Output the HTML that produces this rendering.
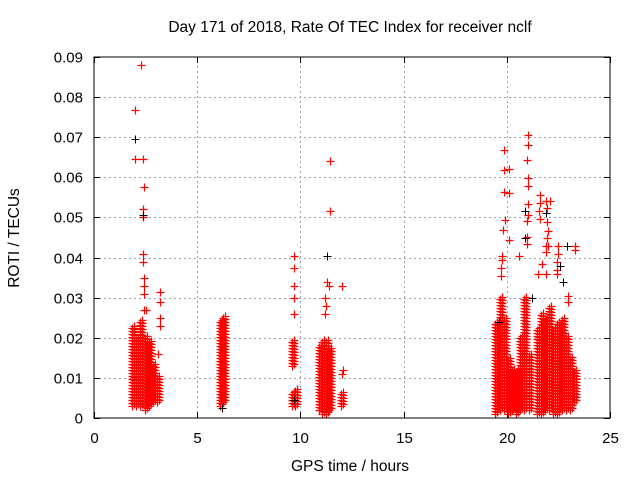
<!DOCTYPE html>
<html><head><meta charset="utf-8"><style>
body{margin:0;background:#fff;}
svg{display:block;font-family:"Liberation Sans",sans-serif;}
</style></head><body>
<svg id="chart" width="640" height="480">
<text x="350" y="32" font-size="15.5" text-anchor="middle">Day 171 of 2018, Rate Of TEC Index for receiver nclf</text>
<text x="350" y="471" font-size="15.5" text-anchor="middle">GPS time / hours</text>
<text transform="translate(19,238) rotate(-90)" font-size="15.5" text-anchor="middle">ROTI / TECUs</text>
<g id="grid"></g><g id="ticks"></g><g id="marks"></g>
<rect x="94" y="57" width="516" height="361" fill="none" stroke="#000" stroke-width="1"/>
</svg>
<script>
const xTicks=[0,5,10,15,20,25];
const yTicks=[0,0.01,0.02,0.03,0.04,0.05,0.06,0.07,0.08,0.09];
const yTickLabels=["0","0.01","0.02","0.03","0.04","0.05","0.06","0.07","0.08","0.09"];
// dense bins: time (h), lower and upper ROTI
const binT=[1.9,2.1,2.3,2.5,2.7,2.9,3.1,6.15,6.3,9.65,9.65,9.8,10.95,11.1,11.3,11.45,12.0,19.5,19.7,19.9,20.1,20.3,20.5,20.7,20.9,21.1,21.5,21.7,21.9,22.1,22.3,22.5,22.7,22.9,23.1,23.3];
const binLo=[0.003,0.003,0.003,0.002,0.003,0.004,0.004,0.003,0.004,0.003,0.013,0.003,0.002,0.001,0.001,0.002,0.003,0.001,0.002,0.002,0.001,0.002,0.001,0.002,0.002,0.002,0.001,0.001,0.002,0.002,0.001,0.001,0.002,0.002,0.002,0.004];
const binHi=[0.023,0.020,0.024,0.020,0.019,0.013,0.010,0.024,0.025,0.006,0.019,0.007,0.018,0.019,0.019,0.017,0.006,0.024,0.030,0.025,0.015,0.012,0.012,0.020,0.030,0.016,0.022,0.026,0.025,0.028,0.022,0.024,0.025,0.020,0.015,0.012];
// scattered outlier points
const redT=[2.0,2.0,2.3,2.35,2.4,2.35,2.35,2.35,2.35,2.4,2.4,2.4,2.4,2.5,3.2,3.2,3.2,3.2,3.1,9.7,9.7,9.7,9.7,9.7,11.45,11.45,11.3,11.4,11.2,11.25,11.2,12.0,12.05,12.0,19.88,19.88,20.1,19.88,20.1,19.9,19.8,20.1,19.75,19.75,19.7,19.7,21.04,21.04,21.0,21.04,21.04,21.05,21.05,21.0,21.0,21.0,20.6,21.6,21.6,21.55,21.6,21.9,22.1,21.95,21.95,22.0,21.95,21.9,22.0,22.5,22.5,22.45,21.9,21.7,22.45,23.3,23.3,21.5,21.9,22.45,22.95,22.95];
const redV=[0.0768,0.0645,0.088,0.0645,0.0575,0.052,0.050,0.041,0.039,0.035,0.033,0.031,0.027,0.027,0.0315,0.029,0.025,0.023,0.016,0.0405,0.0375,0.033,0.030,0.026,0.064,0.0515,0.034,0.033,0.030,0.028,0.026,0.033,0.012,0.011,0.0667,0.0618,0.062,0.0564,0.056,0.0494,0.0469,0.0445,0.0405,0.0394,0.0375,0.0355,0.0706,0.068,0.0643,0.0599,0.0579,0.0534,0.0506,0.049,0.0451,0.0433,0.0405,0.0556,0.0536,0.0517,0.0496,0.054,0.054,0.0523,0.0489,0.0465,0.045,0.0429,0.043,0.043,0.041,0.039,0.0415,0.0384,0.037,0.043,0.042,0.0359,0.036,0.036,0.0304,0.029];
const blackT=[2.0,2.35,11.3,20.9,20.9,21.9,22.9,22.7,6.2,9.7,19.6,21.2,22.6];
const blackV=[0.0695,0.0505,0.0404,0.0515,0.045,0.051,0.043,0.034,0.0025,0.0045,0.024,0.030,0.038];

const X0=94,X1=610,Y0=418,Y1=57;
const sx=h=>X0+(h-0)/(25-0)*(X1-X0);
const sy=v=>Y0-(v-0)/(0.09-0)*(Y0-Y1);
const NS="http://www.w3.org/2000/svg";
const grid=document.getElementById('grid'),ticks=document.getElementById('ticks'),marks=document.getElementById('marks');
function mk(tag,attrs,parent){const e=document.createElementNS(NS,tag);for(const k in attrs)e.setAttribute(k,attrs[k]);parent.appendChild(e);return e;}
xTicks.forEach((t,i)=>{
  const x=Math.round(sx(t))+0.5;
  if(i>0&&i<xTicks.length-1){const g=mk('line',{x1:x,y1:Y0,x2:x,y2:Y1,stroke:'#a0a0a0','stroke-dasharray':'2,3'},grid);
  
  }
  const tk=mk('path',{d:`M${x} ${Y0}v-6M${x} ${Y1}v6`,stroke:'#000'},ticks);
  
  
  const l=mk('text',{x:x,y:Y0+25,'font-size':15,'text-anchor':'middle'},ticks);l.textContent=t;
  
  
});
yTicks.forEach((t,i)=>{
  const y=Math.round(sy(t))+0.5;
  if(i>0&&i<yTicks.length-1){const g=mk('line',{x1:X0,y1:y,x2:X1,y2:y,stroke:'#a0a0a0','stroke-dasharray':'2,3'},grid);
  
  }
  const tk=mk('path',{d:`M${X0} ${y}h6M${X1} ${y}h-6`,stroke:'#000'},ticks);
  
  
  const l=mk('text',{x:83,y:y+5,'font-size':15,'text-anchor':'end'},ticks);l.textContent=yTickLabels[i];
  
  
});
function cross(x,y){x=Math.round(x)+0.5;y=Math.round(y)+0.5;return `M${x-4} ${y}h8M${x} ${y-4}v8`;}
binT.forEach((t,i)=>{
  let d='';const x=sx(t);
  for(let y=sy(binLo[i]);y>=sy(binHi[i]);y-=3){d+=cross(x-1,y)+cross(x+1,y-1.5);}
  const p=mk('path',{d:d,stroke:'#ff0000','stroke-width':1.2,fill:'none'},marks);
  
  
});
redT.forEach((t,i)=>{
  const p=mk('path',{d:cross(sx(t),sy(redV[i])),stroke:'#ff0000','stroke-width':1.2},marks);
  
  
});
blackT.forEach((t,i)=>{
  const p=mk('path',{d:cross(sx(t),sy(blackV[i])),stroke:'#000','stroke-width':1},marks);
  
  
});
</script>
</body></html>
